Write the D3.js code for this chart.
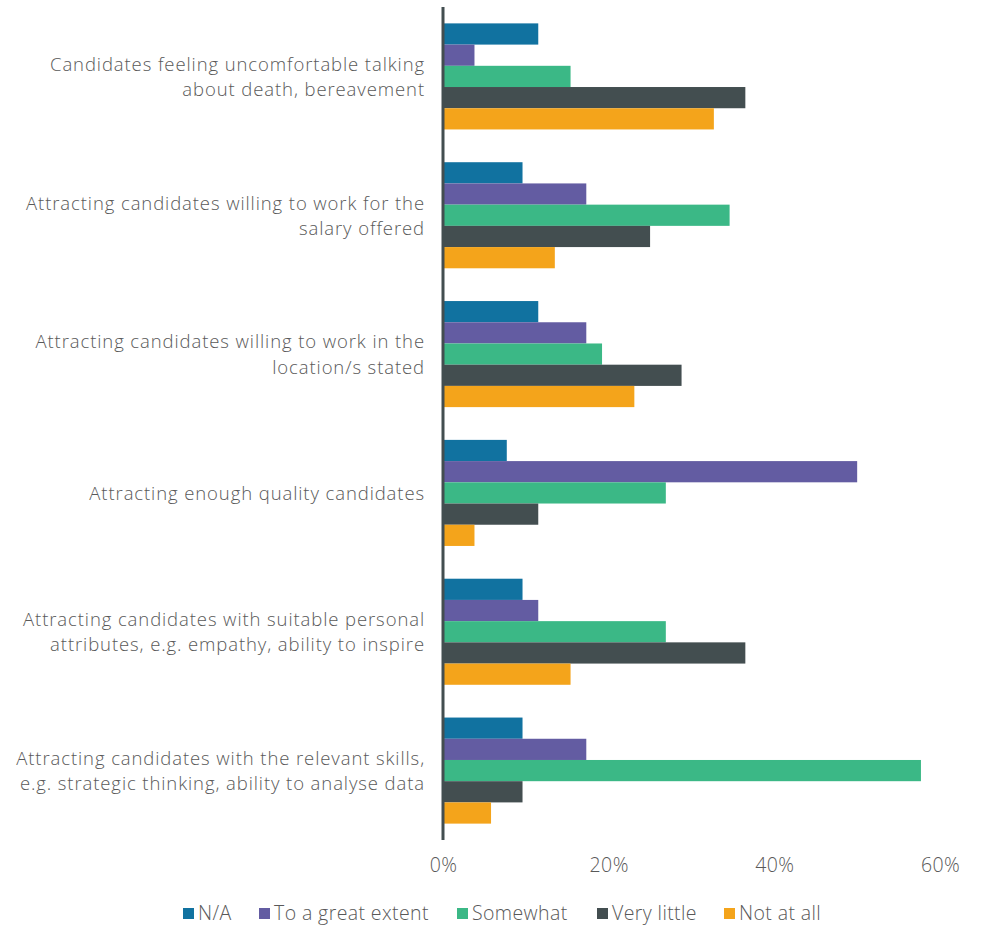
<!DOCTYPE html>
<html>
<head>
<meta charset="utf-8">
<script src="https://cdn.jsdelivr.net/npm/d3@7"></script>
<style>
  html, body { margin: 0; padding: 0; background: #fff; }
  svg text { font-family: "Open Sans", sans-serif; font-weight: 300; fill: #595959; letter-spacing: 0.4px; }
  svg text.cat { letter-spacing: 0.9px; }
</style>
</head>
<body>
<svg id="chart" width="982" height="927"></svg>
<script>
// Survey challenges, share of respondents per answer
const categories = [
  ["Candidates feeling uncomfortable talking", "about death, bereavement"],
  ["Attracting candidates willing to work for the", "salary offered"],
  ["Attracting candidates willing to work in the", "location/s stated"],
  ["Attracting enough quality candidates"],
  ["Attracting candidates with suitable personal", "attributes, e.g. empathy, ability to inspire"],
  ["Attracting candidates with the relevant skills,", "e.g. strategic thinking, ability to analyse data"]
];
const seriesNames = ["N/A", "To a great extent", "Somewhat", "Very little", "Not at all"];
const seriesColors = ["#1172a0", "#635ca2", "#3bb886", "#434e50", "#f4a41b"];

const naValues       = [0.115, 0.096, 0.115, 0.077, 0.096, 0.096];
const greatValues    = [0.038, 0.173, 0.173, 0.500, 0.115, 0.173];
const somewhatValues = [0.154, 0.346, 0.192, 0.269, 0.269, 0.577];
const littleValues   = [0.365, 0.250, 0.288, 0.115, 0.365, 0.096];
const notAtAllValues = [0.327, 0.135, 0.231, 0.038, 0.154, 0.058];

const seriesValues = [naValues, greatValues, somewhatValues, littleValues, notAtAllValues];
const xTicks = [0, 0.2, 0.4, 0.6];

const svg = d3.select("#chart");
const x0 = 443, x1 = 940;
const yTop = 7, yBottom = 840;
const fontSize = 19.5;

const x = d3.scaleLinear().domain([0, 0.6]).range([x0, x1]);
const y = d3.scaleBand().domain(d3.range(categories.length))
  .range([yTop, yBottom]).paddingInner(0.236).paddingOuter(0.118);
const ySub = d3.scaleBand().domain(d3.range(seriesNames.length))
  .range([0, y.bandwidth()]);

// bars
const groups = svg.append("g").selectAll("g")
  .data(categories).join("g")
  .attr("transform", (d, i) => `translate(0,${y(i)})`);

groups.selectAll("rect")
  .data((d, i) => seriesValues.map((vals, s) => ({ s, v: vals[i] })))
  .join("rect")
  .attr("x", x(0))
  .attr("y", d => ySub(d.s))
  .attr("width", d => x(d.v) - x(0))
  .attr("height", ySub.bandwidth())
  .attr("fill", d => seriesColors[d.s]);

// category labels, one text element per line
const lineH = 25.3;
groups.each(function(lines) {
  const g = d3.select(this);
  const start = y.bandwidth() / 2 - (lines.length - 1) * lineH / 2 + 7;
  lines.forEach((ln, k) => {
    g.append("text")
      .attr("class", "cat")
      .attr("text-anchor", "end")
      .attr("font-size", 18.5)
      .attr("x", 425)
      .attr("y", start + k * lineH)
      .text(ln);
  });
});

// vertical axis line
svg.append("line")
  .attr("x1", x0).attr("x2", x0)
  .attr("y1", yTop).attr("y2", yBottom)
  .attr("stroke", "#434e50").attr("stroke-width", 3);

// x axis tick labels
const xAxis = d3.axisBottom(x).tickValues(xTicks).tickFormat(d3.format(".0%")).tickSize(0).tickPadding(0);
const gx = svg.append("g").attr("transform", `translate(0,872)`).call(xAxis);
gx.select(".domain").remove();
gx.selectAll("text").attr("dy", null).attr("y", 0)
  .attr("font-size", fontSize).attr("fill", "#595959")
  .style("font-family", "'Open Sans', sans-serif").style("font-weight", 300);

// legend
const legendX = [183, 259, 457, 597, 724];
const legend = svg.append("g").selectAll("g")
  .data(seriesNames).join("g")
  .attr("transform", (d, i) => `translate(${legendX[i]},908)`);
legend.append("rect").attr("width", 11).attr("height", 11)
  .attr("fill", (d, i) => seriesColors[i]);
legend.append("text").attr("x", 15).attr("y", 12).attr("font-size", fontSize).text(d => d);
</script>
</body>
</html>
